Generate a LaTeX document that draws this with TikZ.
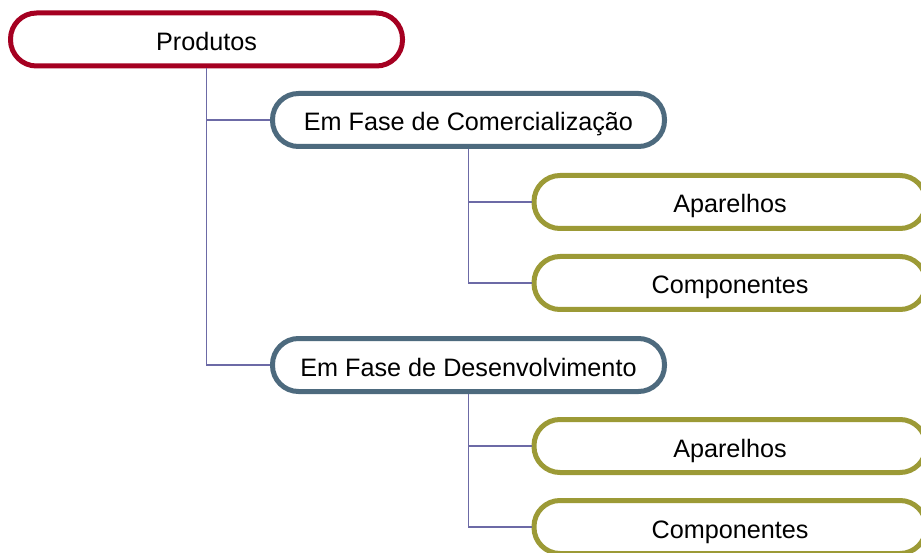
\documentclass[tikz,border=0pt]{standalone}
\usepackage{fontspec}
\setmainfont{Liberation Sans}
\definecolor{redc}{HTML}{A50021}
\definecolor{bluec}{HTML}{4D6A7E}
\definecolor{olivec}{HTML}{9C9A36}
\definecolor{linec}{HTML}{6C6AA6}
\tikzset{
  box/.style={draw, line width=5pt, rounded corners=26pt, fill=white,
    minimum width=392pt, minimum height=53pt, inner sep=0pt,
    text height=24pt, text depth=2pt,
    font=\fontsize{25.2pt}{29pt}\selectfont, text=black},
  lvlone/.style={box, draw=redc},
  lvltwo/.style={box, draw=bluec},
  lvlthree/.style={box, draw=olivec},
  conn/.style={draw=linec, line width=1.3pt}
}
\begin{document}
\begin{tikzpicture}[x=1pt,y=-1pt]
\useasboundingbox (0,0) rectangle (921,553);
\node[lvlone] (P) at (206.5,39.5) {Produtos};
\node[lvltwo] (C) at (468.5,120) {Em Fase de Comercialização};
\node[lvlthree] (A1) at (730,202) {Aparelhos};
\node[lvlthree] (K1) at (730,283) {Componentes};
\node[lvltwo] (D) at (468.5,365) {Em Fase de Desenvolvimento};
\node[lvlthree] (A2) at (730,446) {Aparelhos};
\node[lvlthree] (K2) at (730,527) {Componentes};
\draw[conn] (P.south) |- (C.west);
\draw[conn] (P.south) |- (D.west);
\draw[conn] (C.south) |- (A1.west);
\draw[conn] (C.south) |- (K1.west);
\draw[conn] (D.south) |- (A2.west);
\draw[conn] (D.south) |- (K2.west);
\end{tikzpicture}
\end{document}
